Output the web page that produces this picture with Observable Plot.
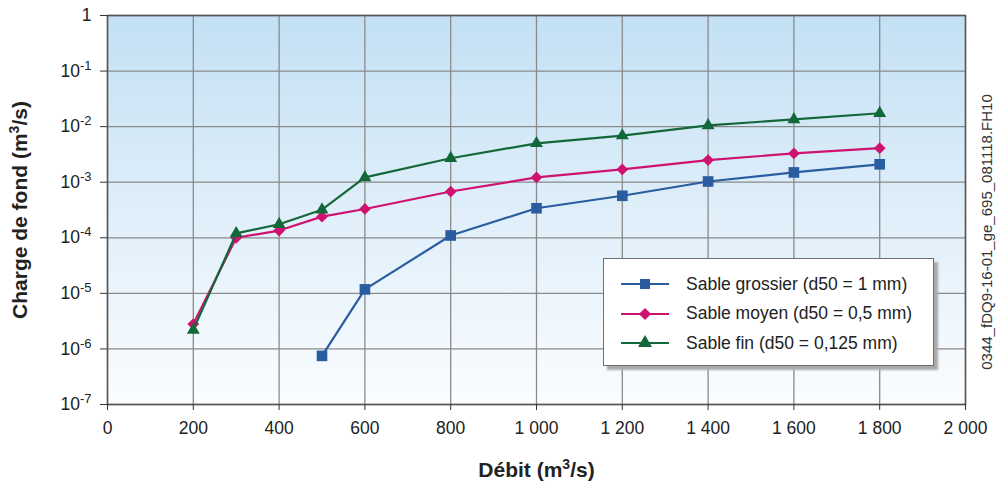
<!DOCTYPE html>
<html><head><meta charset="utf-8">
<script src="https://cdn.jsdelivr.net/npm/d3@7"></script>
<script src="https://cdn.jsdelivr.net/npm/@observablehq/plot@0.6"></script>
<style>
body{margin:0;background:#fff;font-family:"Liberation Sans",Arial,sans-serif;}
#wrap{position:relative;width:998px;height:489px;}
#legend{position:absolute;left:603px;top:258px;width:331px;height:108px;background:#fff;border:1px solid #6f6f6f;box-shadow:4px 4px 2px #a9a9a9;box-sizing:border-box;font-size:17.5px;color:#222;}
#legend .row{position:absolute;left:0;height:20px;display:flex;align-items:center;}
#legend svg{margin-left:17px;margin-right:17px;}
#side{position:absolute;left:986px;top:232px;transform:translate(-50%,-50%) rotate(-90deg);white-space:nowrap;font-size:15px;color:#333;}
</style></head><body>
<div id="wrap"></div>
<script>
const debit = [200,300,400,500,600,800,1000,1200,1400,1600,1800];
const grossierX = [500,600,800,1000,1200,1400,1600,1800];
const grossier = [7.5e-7,1.18e-5,1.1e-4,3.4e-4,5.7e-4,1.03e-3,1.5e-3,2.1e-3];
const moyen = [2.8e-6,1.0e-4,1.35e-4,2.4e-4,3.3e-4,6.8e-4,1.22e-3,1.7e-3,2.5e-3,3.3e-3,4.1e-3];
const fin = [2.2e-6,1.2e-4,1.75e-4,3.2e-4,1.22e-3,2.7e-3,5.0e-3,6.9e-3,1.05e-2,1.35e-2,1.74e-2];
const seriesNames = ["Sable grossier (d50 = 1 mm)","Sable moyen (d50 = 0,5 mm)","Sable fin (d50 = 0,125 mm)"];
const colors = ["#2a5d9f","#cf1270","#13683a"];
const symbols = ["square","diamond2","triangle"];
const xTicks = [0,200,400,600,800,1000,1200,1400,1600,1800,2000];
const yTicks = [1e-7,1e-6,1e-5,1e-4,1e-3,1e-2,1e-1,1];

const data = [
  ...grossierX.map((x,i)=>({x,y:grossier[i],s:seriesNames[0]})),
  ...debit.map((x,i)=>({x,y:moyen[i],s:seriesNames[1]})),
  ...debit.map((x,i)=>({x,y:fin[i],s:seriesNames[2]}))
];
const fmtX = n => n>=1000 ? `${Math.floor(n/1000)} ${String(n%1000).padStart(3,"0")}` : String(n);
const fmtY = v => { const e = Math.round(Math.log10(v)); return e===0 ? "1" : "10^"+e; };
const radii = [6,5.3,4.8];

const marks = [
  Plot.frame({fill:"url(#bg)"}),
  Plot.gridX(xTicks,{stroke:"#8a8a8a",strokeOpacity:1,strokeWidth:1.3}),
  Plot.gridY(yTicks,{stroke:"#8a8a8a",strokeOpacity:1,strokeWidth:1.3}),
  Plot.frame({stroke:"#555",strokeWidth:1.5}),
  Plot.axisX(xTicks,{tickFormat:fmtX,tickSize:6,tickPadding:11,fontSize:17.5,stroke:"#333",label:"Débit (m3/s)",labelAnchor:"center",labelOffset:72,labelArrow:"none"}),
  Plot.axisY(yTicks,{tickFormat:fmtY,tickSize:7,tickPadding:9,fontSize:17.5,stroke:"#333",label:"Charge de fond (m3/s)",labelAnchor:"center",labelOffset:95,labelArrow:"none"}),
];
seriesNames.forEach((name,i)=>{
  const d = data.filter(r=>r.s===name);
  marks.push(Plot.line(d,{x:"x",y:"y",stroke:colors[i],strokeWidth:2.2}));
  marks.push(Plot.dot(d,{x:"x",y:"y",symbol:()=>symbols[i],fill:colors[i],stroke:"none",r:radii[i]}));
});

const chart = Plot.plot({
  width:998,height:489,
  marginLeft:107,marginRight:33,marginTop:15,marginBottom:85,
  style:{fontFamily:"Liberation Sans, Arial, sans-serif",color:"#222",background:"transparent"},
  x:{domain:[0,2000]},
  y:{type:"log",domain:[1e-7,1]},
  symbol:{domain:symbols,range:symbols},
  marks
});
const svg = d3.select(chart);
const defs = svg.insert("defs",":first-child");
const g = defs.append("linearGradient").attr("id","bg").attr("x1",0).attr("y1",0).attr("x2",0).attr("y2",1);
g.append("stop").attr("offset","0%").attr("stop-color","#c3e0f4");
g.append("stop").attr("offset","100%").attr("stop-color","#fbfdff");
// superscript exponents on y tick labels
svg.selectAll("text").each(function(){
  const t = d3.select(this);
  const s = t.text();
  const m = /^10\^(-?\d+)$/.exec(s);
  if(m){
    t.text("");
    t.append("tspan").text("10");
    t.append("tspan").attr("dy","-7").attr("font-size","13").text(m[1]);
  }
});
// bold axis labels with superscript 3
svg.selectAll("text").filter(function(){return /m3\/s/.test(d3.select(this).text());})
  .each(function(){
    const t = d3.select(this);
    const s = t.text();
    const [a,b] = s.split("m3/s");
    t.text("").attr("font-weight","bold").attr("font-size","21").attr("fill","#222");
    t.append("tspan").text(a+"m");
    t.append("tspan").attr("dy","-8").attr("font-size","14").text("3");
    t.append("tspan").attr("dy","8").text("/s"+b);
  });
document.getElementById("wrap").appendChild(chart);

// legend
const leg = document.createElement("div"); leg.id="legend";
const legSizes = [100,95,85];
seriesNames.forEach((name,i)=>{
  const row = document.createElement("div"); row.className="row"; row.style.top=(15+i*29.5)+"px";
  const sym = d3.symbol(d3["symbol"+({square:"Square",diamond2:"Diamond2",triangle:"Triangle"})[symbols[i]]], legSizes[i])();
  row.innerHTML = `<svg width="48" height="20"><line x1="0" x2="48" y1="10" y2="10" stroke="${colors[i]}" stroke-width="2.2"/><path d="${sym}" transform="translate(24,10)" fill="${colors[i]}"/></svg><span>${name}</span>`;
  leg.appendChild(row);
});
document.getElementById("wrap").appendChild(leg);
const side = document.createElement("div"); side.id="side"; side.textContent="0344_fDQ9-16-01_ge_695_081118.FH10";
document.getElementById("wrap").appendChild(side);
</script></body></html>
